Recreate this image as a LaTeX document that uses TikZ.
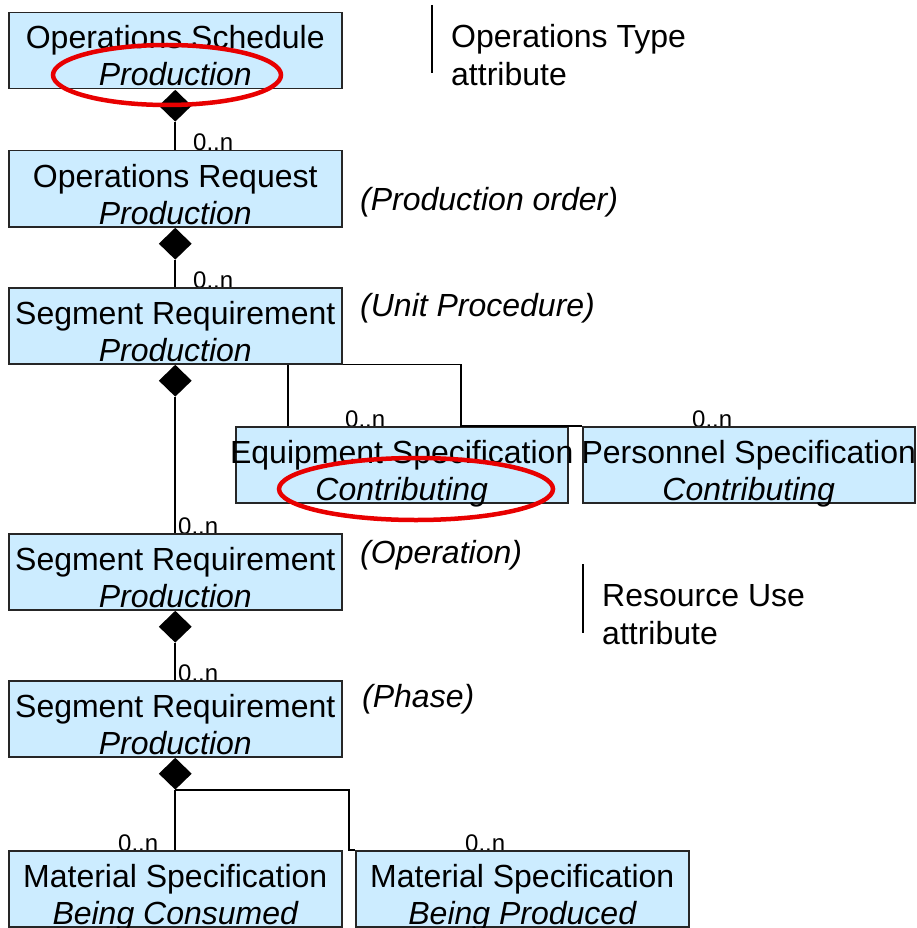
\documentclass[tikz,border=0pt]{standalone}
\usepackage{fontspec}
\setmainfont{Liberation Sans}
\usetikzlibrary{shapes.geometric}

\definecolor{boxblue}{RGB}{204,236,255}
\definecolor{ringred}{RGB}{232,0,0}

\newcommand{\mainsize}{\fontsize{32}{38}\selectfont}
\newcommand{\classtext}[3]{%
  \node[boxline] (#1a) at ([yshift=-37pt]#1.north) {#2};
  \node[boxline, font=\mainsize\itshape] (#1b) at ([yshift=-74pt]#1.north) {#3};}

\tikzset{
  classbox/.style = {draw = black!85, line width = 1.5pt, fill = boxblue, anchor = north west,
                     minimum width = 333pt, minimum height = 76pt, inner sep = 0pt},
  boxline/.style  = {anchor = base, inner sep = 0pt, font = \mainsize},
  note/.style     = {anchor = base west, inner sep = 0pt, font = \mainsize},
  mult/.style     = {anchor = base west, inner sep = 0pt, font = \fontsize{24}{28}\selectfont},
  comp/.style     = {diamond, fill = black, anchor = north, minimum width = 33pt,
                     minimum height = 32pt, inner sep = 0pt},
  link/.style     = {line width = 1.6pt},
  redring/.style  = {ellipse, draw = ringred, line width = 4.5pt, inner sep = 0pt}
}

\begin{document}
\begin{tikzpicture}[x = 1pt, y = -1pt]

\useasboundingbox (0,0) rectangle (916,928);

% multiplicities (under the boxes)
\node[mult] (n1) at (193,151) {0..n};
\node[mult] (n2) at (193,288) {0..n};
\node[mult] (n3) at (345,427) {0..n};
\node[mult] (n4) at (692,427) {0..n};
\node[mult] (n5) at (178,534) {0..n};
\node[mult] (n6) at (178,681) {0..n};
\node[mult] (n7) at (118,851) {0..n};
\node[mult] (n8) at (465,851) {0..n};

% classes
\node[classbox] (os) at (8,12) {};
\node[classbox] (oreq) at (8,150) {};
\node[classbox] (sr1) at (8,287) {};
\node[classbox, minimum width = 332pt] (equip) at (235,426) {};
\node[classbox, minimum width = 332pt] (pers) at (582,426) {};
\node[classbox] (sr2) at (8,533) {};
\node[classbox] (sr3) at (8,680) {};
\node[classbox] (matc) at (8,850) {};
\node[classbox] (matp) at (355,850) {};

\classtext{os}{Operations Schedule}{Production}
\classtext{oreq}{Operations Request}{Production}
\classtext{sr1}{Segment Requirement}{Production}
\classtext{equip}{Equipment Specification}{Contributing}
\classtext{pers}{Personnel Specification}{Contributing}
\classtext{sr2}{Segment Requirement}{Production}
\classtext{sr3}{Segment Requirement}{Production}
\classtext{matc}{Material Specification}{Being Consumed}
\classtext{matp}{Material Specification}{Being Produced}

% composition diamonds
\node[comp] (d1) at (os.south) {};
\node[comp] (d2) at (oreq.south) {};
\node[comp] (d3) at (sr1.south) {};
\node[comp] (d4) at (sr2.south) {};
\node[comp] (d5) at (sr3.south) {};

\coordinate (e1) at ([xshift=53pt]equip.north west);
\coordinate (p1) at ([xshift=-121pt]pers.north west);
\coordinate (m1) at ([xshift=-6pt]matp.north west);

\draw[link] (d1.south) -- (d1.south |- oreq.north);
\draw[link] (d2.south) -- (d2.south |- sr1.north);
\draw[link] (d3.south) -- (d3.south |- sr2.north);
\draw[link] (e1) -- (e1 |- sr1.south);
\draw[link] (sr1.south east) -| (p1) -- (pers.north west);
\draw[link] (d4.south) -- (d4.south |- sr3.north);
\draw[link] (d5.south) -- (d5.south |- matc.north);
\draw[link] (d5.south) -| (m1) -- (matp.north west);

% levels
\node[note, font = \mainsize\itshape] (l1) at (360,210) {(Production order)};
\node[note, font = \mainsize\itshape] (l2) at (360,316) {(Unit Procedure)};
\node[note, font = \mainsize\itshape] (l3) at (360,563) {(Operation)};
\node[note, font = \mainsize\itshape] (l4) at (362,707) {(Phase)};

% attribute notes
\draw[link] (432,5) -- (432,73);
\node[note] (t1) at (451,48) {Operations Type};
\node[note] (t2) at (451,86) {attribute};
\draw[link] (583,564) -- (583,633);
\node[note] (t3) at (602,606) {Resource Use};
\node[note] (t4) at (602,644) {attribute};

% highlights
\node[redring, minimum width = 228pt, minimum height = 60pt] (ring1) at (167,75) {};
\node[redring, minimum width = 274pt, minimum height = 62pt] (ring2) at (416,489) {};

\end{tikzpicture}
\end{document}
